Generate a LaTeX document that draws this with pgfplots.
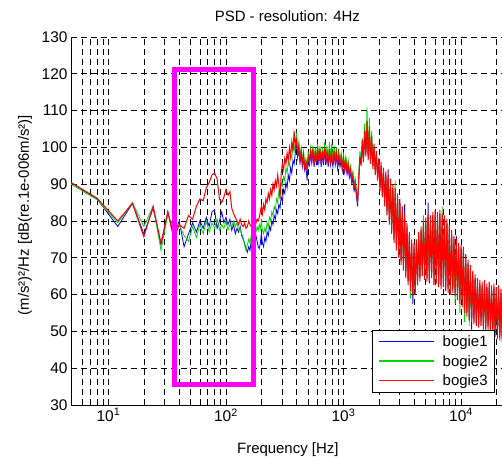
\documentclass[border=0pt]{standalone}
\usepackage{fontspec}
\setmainfont{Liberation Sans}
\usepackage{pgfplots}
\pgfplotsset{compat=1.18}
\usepackage{pgfplotstable}

\definecolor{bblue}{RGB}{0,0,255}
\definecolor{bgreen}{RGB}{0,215,0}
\definecolor{bred}{RGB}{255,0,0}
\definecolor{boxmag}{RGB}{255,0,255}

% legend sample drawn as a coloured rule in the entry text
\newcommand{\legline}[1]{\textcolor{#1}{\rule[0.3em]{55bp}{1.4bp}}\hspace{9bp}}

% PSD of the three bogies, dB; 4 Hz steps below 200 Hz, log steps above
\pgfplotstableread{
f b g r
4 92.0 91.5 92.0
8 86.0 85.8 86.2
12 78.5 79.5 80.0
16 84.8 85.0 84.8
20 76.5 78.5 75.7
24 83.5 84.0 84.0
28 73.5 72.0 74.0
32 82.5 82.0 82.5
36 76.0 78.0 75.0
40 80.0 79.0 79.0
44 73.0 76.0 78.0
48 76.5 74.5 81.5
52 79.5 78.5 80.5
56 77.0 75.5 84.0
60 80.0 79.0 86.0
64 78.0 76.5 85.5
68 81.0 80.0 89.0
72 78.5 77.0 90.5
76 82.5 79.5 92.5
80 83.0 78.0 93.0
84 78.0 80.5 91.5
88 80.0 77.5 86.0
92 82.5 79.0 85.0
96 79.5 78.0 86.5
100 81.0 80.0 88.5
104 79.0 77.5 87.0
108 80.5 79.0 88.0
112 77.5 78.5 83.5
116 79.0 80.0 82.0
120 76.5 78.5 81.0
124 78.0 79.5 80.0
128 77.0 77.5 79.0
132 78.5 78.0 80.5
136 76.0 76.5 79.0
140 75.0 75.5 78.5
144 74.0 73.5 79.5
148 72.5 72.0 78.0
152 71.5 73.5 78.5
156 73.0 75.0 80.0
160 72.0 74.0 79.0
164 74.5 76.0 78.5
168 73.5 77.5 80.0
172 75.0 76.5 79.5
176 74.0 78.0 78.0
180 76.0 77.0 79.5
184 74.5 78.5 80.5
188 73.0 77.5 80.0
192 72.5 79.0 81.0
196 74.0 78.0 82.5
200 76.5 80.0 84.0
204.2 74.0 77.5 82.0
208.9 73.0 76.5 84.5
213.8 75.5 78.0 83.0
218.8 74.5 77.0 86.0
223.9 77.0 79.5 85.0
229.1 76.0 78.5 87.5
234.4 78.5 81.0 86.0
239.9 77.5 80.0 88.5
245.5 80.0 82.5 87.0
251.2 79.0 81.5 90.0
257.0 81.5 84.0 88.5
263.0 80.5 83.0 91.0
269.2 83.0 86.0 89.5
275.4 82.0 85.0 92.5
281.8 84.5 88.0 90.0
288.4 83.5 87.0 86.0
295.1 86.5 90.5 93.0
302.0 85.5 89.5 95.5
309.0 88.5 92.0 94.0
316.2 87.5 91.0 97.0
323.6 90.5 94.5 95.5
331.1 89.0 93.0 98.5
338.8 92.5 96.0 96.5
346.7 91.0 95.0 100.0
354.8 94.5 98.0 97.5
363.1 93.0 97.0 101.5
371.5 96.5 100.5 99.0
380.2 95.5 99.0 104.5
389.0 98.5 101.5 100.0
398.1 101.5 103.5 102.5
407.4 97.2 99.0 98.0
416.9 99.5 101.5 100.5
426.6 95.7 97.5 96.5
436.5 98.0 100.0 99.0
446.7 94.7 96.5 95.5
457.1 97.0 99.0 98.0
467.7 93.7 95.5 94.5
478.6 95.0 97.0 96.0
489.8 91.0 95.0 94.0
501.2 96.5 98.5 97.5
512.9 95.2 97.0 96.0
524.8 98.0 100.0 99.0
537.0 95.7 97.5 96.5
549.5 98.5 100.5 99.5
562.3 94.7 96.5 95.5
575.4 98.0 100.0 99.0
588.8 95.2 97.0 96.0
602.6 99.0 101.0 100.0
616.6 95.7 97.5 96.5
631.0 98.5 100.5 99.5
645.7 94.7 96.5 95.5
660.7 98.0 100.0 99.0
676.1 95.2 97.0 96.0
691.8 99.0 101.5 100.0
707.9 95.2 97.0 96.0
724.4 98.0 100.5 99.0
741.3 94.7 96.5 95.5
758.6 98.5 101.5 99.5
776.2 95.2 97.0 96.0
794.3 97.5 101.0 98.5
812.8 94.7 96.5 95.5
831.8 98.0 100.5 99.0
851.1 95.2 97.0 96.0
871.0 97.5 100.0 98.5
891.3 94.2 96.0 95.0
912.0 97.0 99.0 98.0
933.3 94.7 96.5 95.5
955.0 96.5 98.5 97.5
977.2 93.7 95.5 94.5
1000 96.0 98.0 97.0
1023 93.2 95.0 94.0
1047 95.5 97.5 96.5
1072 92.7 94.5 93.5
1096 94.5 96.5 95.5
1122 91.7 93.5 92.5
1148 93.0 95.0 94.0
1175 90.2 92.0 91.0
1202 91.5 93.5 92.5
1230 88.2 90.0 89.0
1259 89.5 91.5 90.5
1288 86.7 88.5 87.5
1318 84.0 86.0 85.0
1349 91.0 93.0 92.0
1380 96.5 99.0 97.5
1413 96.0 96.5 95.0
1445 100.5 102.5 102.0
1479 97.0 97.5 96.0
1514 103.5 106.5 104.5
1549 98.5 99.0 97.5
1585 105.0 111.0 107.0
1622 97.5 98.0 96.5
1660 104.5 108.0 105.5
1698 96.5 97.0 95.5
1738 102.0 104.5 103.0
1778 95.0 95.5 94.0
1820 100.0 99.5 101.0
1862 93.5 94.0 92.5
1905 98.0 97.5 99.0
1950 92.0 92.5 91.0
1995 96.0 95.5 97.0
2042 89.0 89.5 88.0
2089 95.0 94.5 96.0
2138 87.5 88.0 86.5
2188 93.5 93.0 94.5
2239 85.0 85.5 84.0
2291 92.5 92.0 93.5
2344 82.5 83.0 81.5
2399 94.0 91.0 92.5
2455 80.0 80.5 79.0
2512 90.5 90.0 91.5
2570 77.5 78.0 76.5
2630 89.0 88.5 90.0
2692 75.0 75.5 74.0
2754 88.0 91.0 89.0
2818 73.0 73.5 72.0
2884 86.5 86.0 87.5
2951 71.0 71.5 70.0
3020 85.0 84.5 86.0
3090 69.0 69.5 68.0
3162 83.0 82.5 84.0
3236 67.5 68.0 66.5
3311 84.5 80.5 82.0
3388 65.5 66.0 64.5
3467 78.5 78.0 79.5
3548 63.5 64.0 62.5
3631 76.0 75.5 77.0
3715 62.0 59.0 61.0
3802 74.0 73.5 75.0
3890 57.5 60.5 59.5
3981 73.0 72.5 74.0
4074 61.0 61.5 60.0
4169 74.0 73.5 75.0
4266 63.5 64.0 62.5
4365 76.0 75.5 77.0
4467 64.5 65.0 63.5
4571 77.5 77.0 78.5
4677 66.0 66.5 65.0
4786 79.0 81.5 80.0
4898 65.0 65.5 64.0
5012 80.0 79.5 81.0
5129 64.5 65.0 63.5
5248 85.0 80.5 82.0
5370 64.0 64.5 63.0
5495 80.5 80.0 81.5
5623 65.5 66.0 64.5
5754 81.5 81.0 82.5
5888 63.5 64.0 62.5
6026 82.0 81.5 83.0
6166 64.0 64.5 63.0
6310 81.5 81.0 82.5
6457 63.0 63.5 62.0
6607 82.0 81.5 83.0
6761 62.5 63.0 61.5
6918 81.0 84.0 82.0
7079 63.0 63.5 62.0
7244 80.5 80.0 81.5
7413 62.0 62.5 61.0
7586 79.5 79.0 80.5
7762 61.5 62.0 60.5
7943 78.0 77.5 79.0
8128 61.0 61.5 60.0
8318 76.5 76.0 77.5
8511 61.5 62.0 60.5
8710 75.0 74.5 76.0
8913 60.5 57.5 59.5
9120 76.0 73.5 75.0
9333 59.5 60.0 58.5
9550 73.0 72.5 74.0
9772 58.5 55.0 57.5
10000 72.5 72.0 73.5
10233 57.5 58.0 56.5
10471 72.0 71.5 73.0
10715 53.5 52.5 55.0
10965 70.0 69.5 71.0
11220 55.0 55.5 54.0
11482 68.5 68.0 69.5
11749 54.0 51.5 53.0
12023 67.0 66.5 68.0
12303 50.5 53.5 52.5
12589 65.5 65.0 66.5
12882 53.0 53.5 52.0
13183 64.5 64.0 65.5
13490 52.5 53.0 51.5
13804 63.5 63.0 64.5
14125 52.0 52.5 51.0
14454 63.0 62.5 64.0
14791 52.5 53.0 51.5
15136 62.5 62.0 63.5
15488 51.5 52.0 50.5
15849 63.0 62.5 64.0
16218 51.0 51.5 50.0
16596 62.0 61.5 63.0
16982 51.5 52.0 50.5
17378 62.5 62.0 63.5
17783 50.5 51.0 49.5
18197 61.5 61.0 62.5
18621 50.0 50.5 49.0
19055 62.0 61.5 63.0
19498 49.5 50.0 48.5
19953 61.0 60.5 62.0
20417 49.0 49.5 48.0
20893 61.5 61.0 62.5
21380 48.5 49.0 47.5
21878 60.5 60.0 61.5
22387 48.0 48.5 47.0
22909 60.0 59.5 61.0
23442 47.5 48.0 46.5
23988 59.5 59.0 60.5
}\psd

\begin{document}
\begin{tikzpicture}
\begin{axis}[
    scale only axis,
    width=438bp, height=368bp,
    xmode=log,
    xmin=4.8, xmax=25600,
    ymin=30, ymax=130,
    ytick={30,40,...,130},
    xtick={10,100,1000,10000},
    xticklabels={10\textsuperscript{1},10\textsuperscript{2},10\textsuperscript{3},10\textsuperscript{4}},
    minor xtick={6,7,8,9,20,30,40,50,60,70,80,90,200,300,400,500,600,700,800,900,2000,3000,4000,5000,6000,7000,8000,9000,20000},
    axis x line*=bottom, axis y line*=left,
    x axis line style={-, line width=0.6bp},
    y axis line style={-, line width=0.6bp},
    tick align=inside,
    major tick length=5bp, minor tick length=3bp,
    tick style={black, line width=0.6bp},
    xmajorgrids, xminorgrids, ymajorgrids,
    major grid style={black, line width=0.6bp, dash pattern=on 6bp off 4bp},
    minor grid style={black, line width=0.6bp, dash pattern=on 6bp off 4bp},
    /pgf/number format/assume math mode=true,
    ticklabel style={font=\fontsize{15.5}{18}\selectfont},
    title={PSD - resolution: 4Hz},
    title style={font=\fontsize{15}{18}\selectfont, at={(axis description cs:0.494,1)}, anchor=base, yshift=10bp, inner sep=0pt},
    xlabel={Frequency [Hz]},
    xlabel style={font=\fontsize{15}{18}\selectfont, at={(axis description cs:0.495,-0.121)}, anchor=center},
    ylabel={(m/s²)²/Hz [dB(re.1e-006m/s²)]},
    ylabel style={font=\fontsize{15}{18}\selectfont, at={(axis description cs:-0.105,0.516)}, anchor=center},
    legend style={at={(axis description cs:0.687,0.204)}, anchor=north west,
        fill=white, font=\fontsize{15}{18}\selectfont,
        nodes={inner sep=3.6bp}, cells={anchor=west}},
    legend image code/.code={},
]
\addplot[color=bblue, line width=0.8bp] table[x=f, y=b] {\psd};
\addlegendentry{\legline{bblue}bogie1\hspace{14bp}}
\addplot[color=bgreen, line width=0.8bp] table[x=f, y=g] {\psd};
\addlegendentry{\legline{bgreen}bogie2\hspace{14bp}}
\addplot[color=bred, line width=1bp] table[x=f, y=r] {\psd};
\addlegendentry{\legline{bred}bogie3\hspace{14bp}}
\addplot[boxmag, line width=5bp, line join=miter, forget plot] coordinates {
    (36.8,35.6) (170,35.6) (170,121.1) (36.8,121.1) (36.8,35.6) (170,35.6)
};
\end{axis}
\pgfresetboundingbox
\path[use as bounding box] (-71bp,-52bp) rectangle (431bp,405bp);
\end{tikzpicture}
\end{document}
